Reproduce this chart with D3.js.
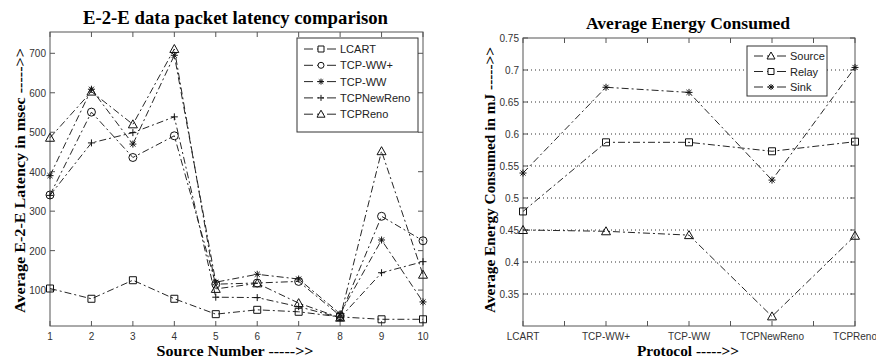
<!DOCTYPE html>
<html>
<head>
<meta charset="utf-8">
<script src="https://cdn.jsdelivr.net/npm/d3@7"></script>
<style>
  body { margin: 0; background: #fff; }
  svg { display: block; }
</style>
</head>
<body>
<svg id="chart" width="876" height="360"></svg>
<script>
// left panel: latency per source
var sources = [1, 2, 3, 4, 5, 6, 7, 8, 9, 10];
var latencyNames = ["LCART", "TCP-WW+", "TCP-WW", "TCPNewReno", "TCPReno"];
var lcart      = [104, 78, 125, 78, 39, 50, 45, 32, 26, 26];
var tcpWWplus  = [341, 551, 436, 491, 115, 118, 122, 35, 287, 225];
var tcpWW      = [390, 609, 470, 695, 120, 140, 128, 40, 227, 70];
var tcpNewReno = [340, 473, 499, 539, 82, 81, 58, 30, 144, 172];
var tcpReno    = [486, 603, 520, 711, 103, 117, 67, 30, 452, 139];
var latencyTicks = [100, 200, 300, 400, 500, 600, 700];

// right panel: energy per protocol
var protocols = ["LCART", "TCP-WW+", "TCP-WW", "TCPNewReno", "TCPReno"];
var energyNames = ["Source", "Relay", "Sink"];
var sourceEnergy = [0.450, 0.448, 0.442, 0.315, 0.441];
var relayEnergy  = [0.479, 0.587, 0.587, 0.573, 0.588];
var sinkEnergy   = [0.539, 0.673, 0.665, 0.528, 0.704];
var energyTicks = [0.35, 0.4, 0.45, 0.5, 0.55, 0.6, 0.65, 0.7, 0.75];

var svg = d3.select("#chart");
var lineColor = "#262626",
    axisColor = "#555",
    dash = "7,3,2,3";

// marker paths, centred on 0,0
function markerPath(kind, s) {
  var h = s / 2;
  if (kind == "square") return "M" + -h + "," + -h + "H" + h + "V" + h + "H" + -h + "Z";
  if (kind == "circle") return "M" + h + ",0A" + h + "," + h + " 0 1,1 " + -h + ",0A" + h + "," + h + " 0 1,1 " + h + ",0Z";
  if (kind == "triangle") return "M0," + (-h - 1) + "L" + (h + 1) + "," + h + "L" + (-h - 1) + "," + h + "Z";
  if (kind == "plus") return "M" + -h + ",0H" + h + "M0," + -h + "V" + h;
  // asterisk
  var d = h * 0.72;
  return "M" + -h + ",0H" + h + "M0," + -h + "V" + h +
         "M" + -d + "," + -d + "L" + d + "," + d + "M" + -d + "," + d + "L" + d + "," + -d;
}

function panel(opt) {
  var g = svg.append("g");
  var x = opt.x, y = opt.y;
  var x0 = x.range()[0], x1 = x.range()[1],
      y0 = y.range()[0], y1 = y.range()[1];

  // grid
  if (opt.grid) {
    g.selectAll(".grid").data(opt.grid).enter().append("line")
      .attr("x1", x0).attr("x2", x1)
      .attr("y1", function(d) { return y(d); })
      .attr("y2", function(d) { return y(d); })
      .attr("stroke", "#333").attr("stroke-width", 1)
      .attr("stroke-dasharray", "1,3");
  }

  // box
  g.append("rect")
    .attr("x", x0).attr("y", y1)
    .attr("width", x1 - x0).attr("height", y0 - y1)
    .attr("fill", "none").attr("stroke", axisColor);

  // ticks, pointing in on all four sides
  var tl = 5;
  opt.xTickVals.forEach(function(v) {
    g.append("line").attr("x1", x(v)).attr("x2", x(v)).attr("y1", y0).attr("y2", y0 - tl).attr("stroke", axisColor);
    g.append("line").attr("x1", x(v)).attr("x2", x(v)).attr("y1", y1).attr("y2", y1 + tl).attr("stroke", axisColor);
  });
  opt.yTickVals.forEach(function(v) {
    g.append("line").attr("x1", x0).attr("x2", x0 + tl).attr("y1", y(v)).attr("y2", y(v)).attr("stroke", axisColor);
    g.append("line").attr("x1", x1).attr("x2", x1 - tl).attr("y1", y(v)).attr("y2", y(v)).attr("stroke", axisColor);
  });

  // tick labels
  g.selectAll(".xl").data(opt.xLabels).enter().append("text")
    .attr("x", function(d) { return x(d.v); })
    .attr("y", y0 + 14)
    .attr("text-anchor", "middle")
    .attr("font-family", "Liberation Sans, Arial, sans-serif")
    .attr("font-size", 10).attr("fill", "#333")
    .text(function(d) { return d.t; });
  g.selectAll(".yl").data(opt.yTickVals).enter().append("text")
    .attr("x", x0 - 4)
    .attr("y", function(d) { return y(d) + 4; })
    .attr("text-anchor", "end")
    .attr("font-family", "Liberation Sans, Arial, sans-serif")
    .attr("font-size", 10).attr("fill", "#333")
    .text(opt.yFormat);

  // series
  var line = d3.line()
    .x(function(d, i) { return x(opt.xs[i]); })
    .y(function(d) { return y(d); });
  opt.series.forEach(function(s) {
    g.append("path").attr("d", line(s.values))
      .attr("fill", "none").attr("stroke", lineColor)
      .attr("stroke-width", 1).attr("stroke-dasharray", dash);
    g.selectAll(null).data(s.values).enter().append("path")
      .attr("transform", function(d, i) { return "translate(" + x(opt.xs[i]) + "," + y(d) + ")"; })
      .attr("d", markerPath(s.marker, s.marker == "circle" ? 8 : 7))
      .attr("fill", "none").attr("stroke", "#111").attr("stroke-width", 1);
  });

  // titles
  var serif = "Liberation Serif, Times New Roman, serif";
  g.append("text").attr("x", opt.title.x).attr("y", opt.title.y)
    .attr("text-anchor", "middle").attr("font-family", serif)
    .attr("font-weight", "bold").attr("font-size", opt.title.size)
    .attr("textLength", opt.title.len).attr("lengthAdjust", "spacingAndGlyphs")
    .text(opt.title.text);
  g.append("text").attr("x", opt.xTitle.x).attr("y", opt.xTitle.y)
    .attr("text-anchor", "middle").attr("font-family", serif)
    .attr("font-weight", "bold").attr("font-size", 15)
    .attr("textLength", opt.xTitle.len).attr("lengthAdjust", "spacingAndGlyphs")
    .text(opt.xTitle.text);
  g.append("text")
    .attr("transform", "translate(" + opt.yTitle.x + "," + opt.yTitle.y + ") rotate(-90)")
    .attr("text-anchor", "middle").attr("font-family", serif)
    .attr("font-weight", "bold").attr("font-size", 15)
    .attr("textLength", opt.yTitle.len).attr("lengthAdjust", "spacingAndGlyphs")
    .text(opt.yTitle.text);

  // legend
  var L = opt.legend;
  g.append("rect").attr("x", L.x).attr("y", L.y).attr("width", L.w).attr("height", L.h)
    .attr("fill", "#fff").attr("stroke", "#333");
  opt.series.forEach(function(s, i) {
    var ly = L.y + L.first + i * L.step;
    g.append("line").attr("x1", L.x + 7).attr("x2", L.x + 40).attr("y1", ly).attr("y2", ly)
      .attr("stroke", lineColor).attr("stroke-dasharray", "9,4,2,3,2,3");
    g.append("path").attr("transform", "translate(" + (L.x + 24) + "," + ly + ")")
      .attr("d", markerPath(s.marker, 6))
      .attr("fill", "#fff").attr("stroke", "#111");
    g.append("text").attr("x", L.x + 43).attr("y", ly + 4)
      .attr("font-family", "Liberation Sans, Arial, sans-serif")
      .attr("font-size", 11).attr("fill", "#222")
      .text(s.name);
  });
}

// left panel
var xLat = d3.scaleLinear().domain([1, 10]).range([50, 423]);
var yLat = d3.scaleLinear().domain([9, 754]).range([326, 32]);
var latSeries = [lcart, tcpWWplus, tcpWW, tcpNewReno, tcpReno];
var latMarkers = ["square", "circle", "asterisk", "plus", "triangle"];
panel({
  x: xLat, y: yLat, xs: sources,
  xTickVals: sources,
  xLabels: sources.map(function(s) { return { v: s, t: s }; }),
  yTickVals: latencyTicks,
  yFormat: function(d) { return d; },
  series: latSeries.map(function(v, i) { return { name: latencyNames[i], values: v, marker: latMarkers[i] }; }),
  title: { text: "E-2-E data packet latency comparison", x: 235.5, y: 24, size: 18, len: 305 },
  xTitle: { text: "Source Number ----->>", x: 235, y: 356, len: 157 },
  yTitle: { text: "Average E-2-E Latency in msec ----->>", x: 25, y: 180.5, len: 265 },
  legend: { x: 297, y: 38, w: 121, h: 94, first: 11, step: 16.3 }
});

// right panel
var protoIdx = protocols.map(function(p, i) { return i + 1; });
var xEn = d3.scaleLinear().domain([1, 5]).range([523, 855]);
var yEn = d3.scaleLinear().domain([0.3, 0.75]).range([326, 38]);
var enSeries = [sourceEnergy, relayEnergy, sinkEnergy];
var enMarkers = ["triangle", "square", "asterisk"];
panel({
  x: xEn, y: yEn, xs: protoIdx,
  xTickVals: d3.range(1, 5.01, 0.5),
  xLabels: protocols.map(function(p, i) { return { v: i + 1, t: p }; }),
  yTickVals: energyTicks,
  yFormat: function(d) { return d3.format("")(+d.toFixed(2)); },
  grid: energyTicks.slice(0, -1),
  series: enSeries.map(function(v, i) { return { name: energyNames[i], values: v, marker: enMarkers[i] }; }),
  title: { text: "Average Energy Consumed", x: 688, y: 29, size: 17, len: 204 },
  xTitle: { text: "Protocol ----->>", x: 688, y: 356, len: 102 },
  yTitle: { text: "Average Energy Consumed in mJ ----->>", x: 495, y: 180, len: 266 },
  legend: { x: 747, y: 46, w: 80, h: 50, first: 10, step: 15.5 }
});
</script>
</body>
</html>
